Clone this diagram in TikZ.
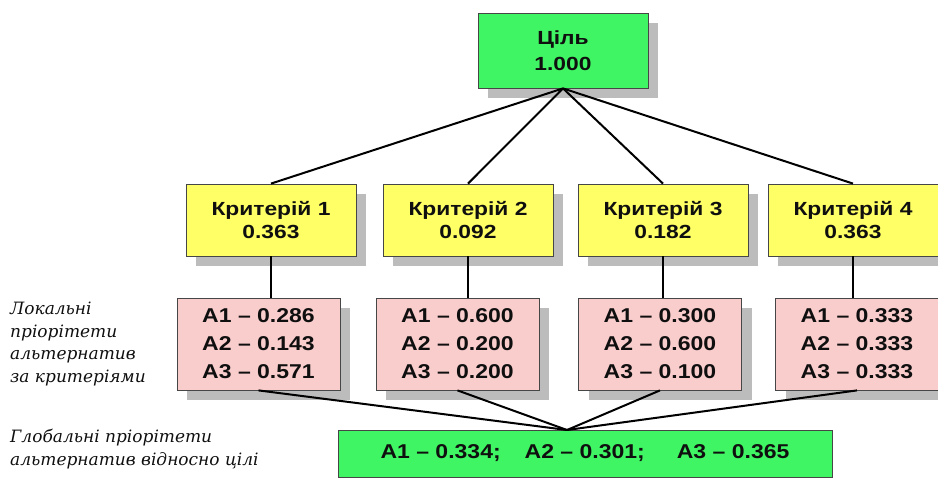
\documentclass[tikz,border=0pt]{standalone}
\usepackage{fontspec}
\setmainfont{Liberation Sans}
\newfontfamily\boxfont[FakeStretch=1.15]{Liberation Sans}
\newfontfamily\critfont[FakeStretch=1.2]{Liberation Sans}
\newfontfamily\lblfont{DejaVu Serif}
\usetikzlibrary{shadows}
\definecolor{goalgreen}{RGB}{64,245,100}
\definecolor{crityellow}{RGB}{255,255,102}
\definecolor{altpink}{RGB}{250,205,205}
\definecolor{shadowgray}{RGB}{188,188,188}
\definecolor{borderc}{RGB}{70,70,70}
\definecolor{textc}{RGB}{15,15,15}
\tikzset{
  basebox/.style={draw=borderc, line width=0.8pt, text=textc, align=center, inner sep=0pt,
    drop shadow={shadow xshift=10pt, shadow yshift=-10pt, fill=shadowgray, opacity=1}},
  goalbox/.style={basebox, fill=goalgreen, minimum width=170pt, minimum height=75pt,
    font=\critfont\bfseries\fontsize{19}{26}\selectfont},
  critbox/.style={basebox, fill=crityellow, minimum width=170pt, minimum height=72pt,
    font=\critfont\bfseries\fontsize{19}{23}\selectfont},
  altbox/.style={basebox, fill=altpink, minimum width=163pt, minimum height=92pt,
    font=\boxfont\bfseries\fontsize{20}{28}\selectfont},
  globbox/.style={draw=borderc, line width=0.8pt, text=textc, fill=goalgreen, inner sep=0pt,
    minimum width=494pt, minimum height=47pt, font=\boxfont\bfseries\fontsize{20}{24}\selectfont},
  sidelbl/.style={anchor=north west, align=left, text=textc, inner sep=0pt,
    font=\lblfont\itshape\fontsize{17}{22.5}\selectfont},
  conn/.style={draw=black, line width=2pt}
}
\begin{document}
\begin{tikzpicture}[x=1pt,y=-1pt]
\useasboundingbox (0,0) rectangle (938,479);
\node[goalbox] (goal) at (563,50.5) {Ціль\\1.000};
\node[critbox] (c1) at (271,220) {Критерій 1\\0.363};
\node[critbox] (c2) at (468,220) {Критерій 2\\0.092};
\node[critbox] (c3) at (663,220) {Критерій 3\\0.182};
\node[critbox] (c4) at (853,220) {Критерій 4\\0.363};
\node[altbox] (p1) at (258.5,344) {A1 – 0.286\\A2 – 0.143\\A3 – 0.571};
\node[altbox] (p2) at (457.5,344) {A1 – 0.600\\A2 – 0.200\\A3 – 0.200};
\node[altbox] (p3) at (660,344) {A1 – 0.300\\A2 – 0.600\\A3 – 0.100};
\node[altbox] (p4) at (857,344) {A1 – 0.333\\A2 – 0.333\\A3 – 0.333};
\node[globbox] (glob) at (585,453.5) {A1 – 0.334;\hspace{1.2em}A2 – 0.301;\hspace{1.6em}A3 – 0.365};
\coordinate (meet) at (567,430);
\node[sidelbl] (loc) at (10,302) {Локальні\\пріорітети\\альтернатив\\за критеріями};
\node[sidelbl] (gl) at (10,429) {Глобальні пріорітети\\альтернатив відносно цілі};
\foreach \c in {c1,c2,c3,c4} {
  \draw[conn] (goal.south) -- (\c.north);
}
\draw[conn] (c1.south) -- (c1.south |- p1.north);
\draw[conn] (c2.south) -- (c2.south |- p2.north);
\draw[conn] (c3.south) -- (c3.south |- p3.north);
\draw[conn] (c4.south) -- (c4.south |- p4.north);
\foreach \p in {p1,p2,p3,p4} {
  \draw[conn] (\p.south) -- (meet);
}
\end{tikzpicture}
\end{document}
